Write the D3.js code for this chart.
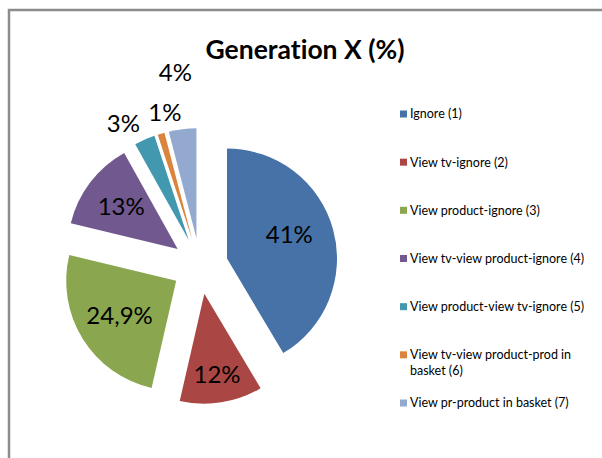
<!DOCTYPE html>
<html>
<head>
<meta charset="utf-8">
<script src="https://cdn.jsdelivr.net/npm/d3@7"></script>
<style>
  html, body { margin: 0; padding: 0; background: #fff; }
  svg { display: block; }
  text { font-family: Lato, "Open Sans", sans-serif; fill: #000; font-variant-ligatures: none; }
</style>
</head>
<body>
<div id="chart"></div>
<script>
// Generation X — share of each browsing path (%)
const categories = [
  "Ignore (1)",
  "View tv-ignore (2)",
  "View product-ignore (3)",
  "View tv-view product-ignore (4)",
  "View product-view tv-ignore (5)",
  "View tv-view product-prod in basket (6)",
  "View pr-product in basket (7)"
];
const values = [41, 12, 24.9, 13, 3, 1, 4];
const valueLabels = ["41%", "12%", "24,9%", "13%", "3%", "1%", "4%"];
const colors = ["#4672A8", "#AA4744", "#8AA64F", "#71588F", "#4198AF", "#DB843D", "#93A9CF"];
const title = "Generation X (%)";

const W = 602, H = 458;
const svg = d3.select("#chart").append("svg")
  .attr("width", W).attr("height", H);

// chart area frame (open to the right and bottom)
svg.append("path")
  .attr("d", "M9,458 V10 H602")
  .attr("fill", "none")
  .attr("stroke", "#8c8c8c")
  .attr("stroke-width", 2.5);

svg.append("text")
  .attr("x", 305).attr("y", 59)
  .attr("text-anchor", "middle")
  .attr("font-size", 26.5)
  .attr("font-weight", "bold")
  .text(title);

// exploded pie
const cx = 200, cy = 266, R = 110, explode = 28;
const pie = d3.pie().sort(null).value(d => d)(values);
const arc = d3.arc().innerRadius(0).outerRadius(R);

// unit vector from a pie angle (0 = 12 o'clock, clockwise)
const dir = a => [Math.sin(a), -Math.cos(a)];

const g = svg.append("g").attr("transform", `translate(${cx},${cy})`);

g.selectAll("path.slice")
  .data(pie)
  .join("path")
  .attr("class", "slice")
  .attr("fill", (d, i) => colors[i])
  .attr("transform", d => {
    const [ux, uy] = dir((d.startAngle + d.endAngle) / 2);
    return `translate(${ux * explode},${uy * explode})`;
  })
  .attr("d", arc);

// data label placement: distance from centre (in radii) and angular nudge (deg)
const labelPlace = [
  { k: 0.86, nudge: -4 },
  { k: 1.0,  nudge: 0 },
  { k: 0.86, nudge: 0 },
  { k: 0.9,  nudge: 0 },
  { k: 1.47, nudge: -4.6 },
  { k: 1.43, nudge: 3.5 },
  { k: 1.77, nudge: 0 }
];

g.selectAll("text.val")
  .data(pie)
  .join("text")
  .attr("class", "val")
  .attr("text-anchor", "middle")
  .attr("dy", "0.35em")
  .attr("font-size", 24)
  .attr("transform", (d, i) => {
    const p = labelPlace[i];
    const a = (d.startAngle + d.endAngle) / 2 + p.nudge * Math.PI / 180;
    const [ux, uy] = dir(a);
    return `translate(${ux * p.k * R},${uy * p.k * R})`;
  })
  .text((d, i) => valueLabels[i]);

// legend
const legendY = d3.scalePoint()
  .domain(d3.range(categories.length))
  .range([114, 403]);
const legend = svg.append("g").attr("transform", "translate(400,0)");
const maxTextW = 180;

const items = legend.selectAll("g.item")
  .data(categories)
  .join("g")
  .attr("class", "item")
  .attr("transform", (d, i) => `translate(0,${legendY(i)})`);

items.append("rect")
  .attr("x", 0).attr("y", -3.5)
  .attr("width", 7).attr("height", 7)
  .attr("fill", (d, i) => colors[i]);

items.append("text")
  .attr("x", 10)
  .attr("font-size", 12.5)
  .each(function (d) {
    const t = d3.select(this);
    const words = d.split(" ");
    let line = [];
    let tspan = t.append("tspan").attr("x", 10).attr("dy", "0.35em");
    for (const w of words) {
      line.push(w);
      tspan.text(line.join(" "));
      if (tspan.node().getComputedTextLength() > maxTextW && line.length > 1) {
        line.pop();
        tspan.text(line.join(" "));
        line = [w];
        tspan = t.append("tspan").attr("x", 10).attr("dy", "1.3em").text(w);
      }
    }
  });
</script>
</body>
</html>
